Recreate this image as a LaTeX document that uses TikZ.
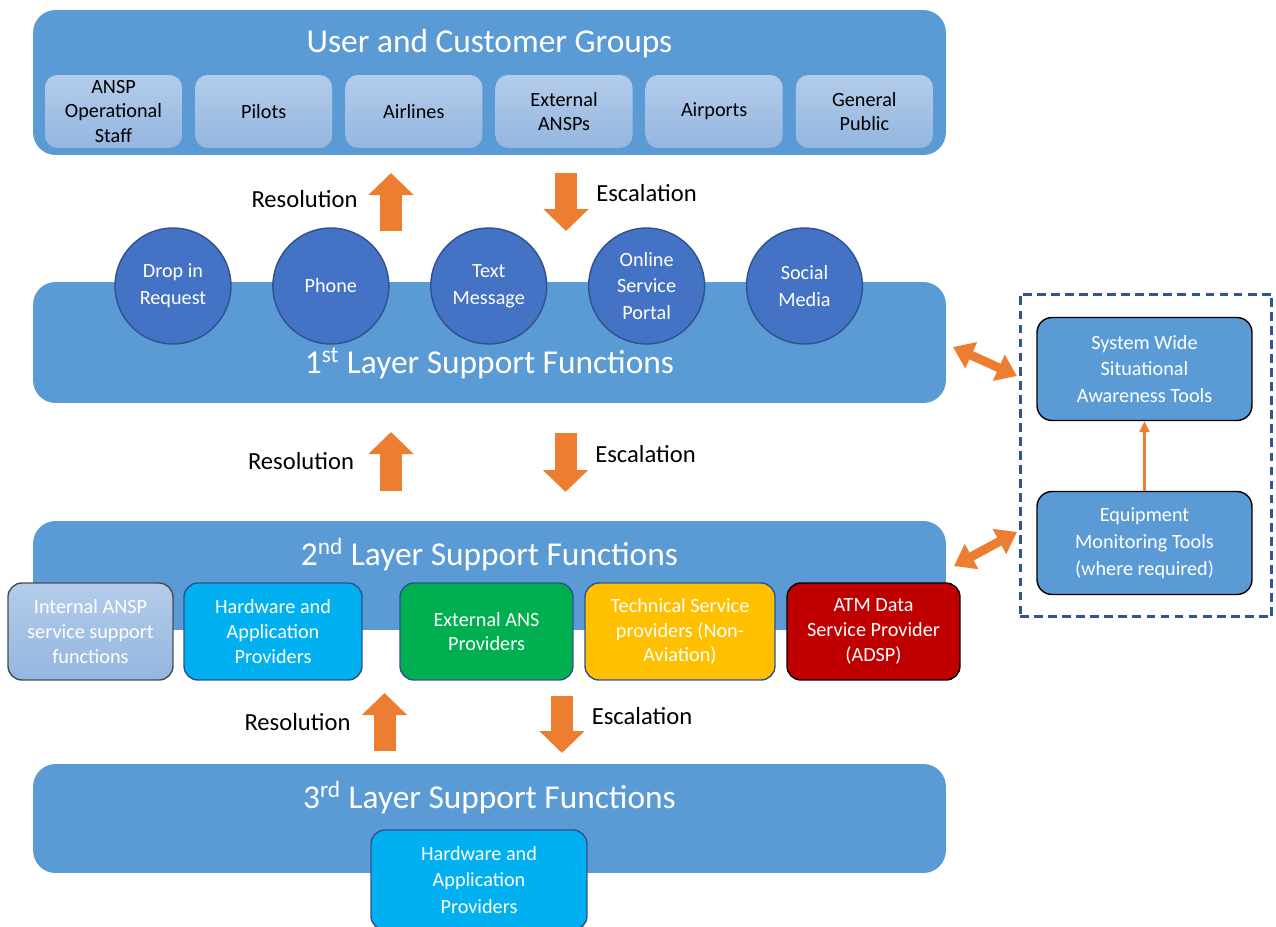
\documentclass[tikz,border=0pt]{standalone}
\usepackage{fontspec}
\setmainfont{Carlito}
\usetikzlibrary{arrows.meta, positioning}
\definecolor{barblue}{HTML}{5B9BD5}
\definecolor{chanblue}{HTML}{4472C4}
\definecolor{navy}{HTML}{2F528F}
\definecolor{framecol}{HTML}{2F5597}
\definecolor{grouptop}{HTML}{B4CCEA}
\definecolor{groupbot}{HTML}{94B6E0}
\definecolor{hwcyan}{HTML}{00B0F0}
\definecolor{ansgreen}{HTML}{00B050}
\definecolor{techgold}{HTML}{FFC000}
\definecolor{adspred}{HTML}{C00000}
\definecolor{flowor}{HTML}{ED7D31}
\tikzstyle{layer} = [rectangle, rounded corners=0.45cm, fill=barblue, minimum width=18.26cm, inner sep=0pt]
\tikzstyle{title} = [text=white, font=\fontsize{19}{23}\selectfont]
\tikzstyle{group} = [rectangle, rounded corners=0.25cm, top color=grouptop, bottom color=groupbot, minimum width=2.74cm, minimum height=1.46cm, inner sep=2pt, align=center, font=\fontsize{11.5}{13.8}\selectfont]
\tikzstyle{channel} = [circle, draw=navy, line width=0.8pt, fill=chanblue, minimum size=2.32cm, inner sep=0pt, align=center, text=white, font=\fontsize{11.5}{15.3}\selectfont]
\tikzstyle{provider} = [rectangle, rounded corners=0.28cm, draw=navy, line width=0.8pt, minimum height=1.94cm, inner sep=2pt, align=center, text=white, font=\fontsize{11.5}{14}\selectfont]
\tikzstyle{tool} = [rectangle, rounded corners=0.3cm, draw=black, line width=0.8pt, fill=barblue, minimum width=4.3cm, minimum height=2.06cm, align=center, text=white, font=\fontsize{11.5}{15.3}\selectfont]
\tikzstyle{frame} = [rectangle, draw=framecol, line width=1.7pt, dash pattern=on 5pt off 3pt, minimum width=5.04cm, minimum height=6.46cm]
\tikzstyle{note} = [font=\fontsize{14}{17}\selectfont]
\tikzstyle{flow} = [flowor, line width=0.44cm, -{Triangle[length=0.44cm, width=0.88cm]}]
\tikzstyle{link} = [flowor, line width=0.18cm, {Triangle[length=0.4cm, width=0.55cm]}-{Triangle[length=0.4cm, width=0.55cm]}]
\tikzstyle{thinflow} = [flowor, line width=1.6pt, -{Triangle[length=0.22cm, width=0.2cm]}]

\begin{document}
\begin{tikzpicture}[x=0.02cm, y=-0.02cm, node distance=0.25cm]
	\clip (0,0) rectangle (1276,927);
	% layers
	\node (users) [layer, minimum height=2.9cm] at (489.5,82.5) {};
	\node (first) [layer, minimum height=2.42cm] at (489.5,342.5) {};
	\node (second) [layer, minimum height=2.18cm] at (489.5,575.5) {};
	\node (third) [layer, minimum height=2.18cm] at (489.5,818.5) {};
	\node (usersT) [title] at (489.5,44) {User and Customer Groups};
	\node (firstT) [title] at (489.5,363) {1\textsuperscript{st} Layer Support Functions};
	\node (secondT) [title] at (489.5,555) {2\textsuperscript{nd} Layer Support Functions};
	\node (thirdT) [title] at (489.5,798) {3\textsuperscript{rd} Layer Support Functions};
	% user and customer groups
	\node (ansp) [group] at (113.5,111.5) {ANSP\\Operational\\Staff};
	\node (pilots) [group, right=of ansp] {Pilots};
	\node (airlines) [group, right=of pilots] {Airlines};
	\node (extansp) [group, right=of airlines] {External\\ANSPs};
	\node (airports) [group, right=of extansp] {Airports};
	\node (public) [group, right=of airports] {General\\Public};
	% contact channels
	\node (drop) [channel] at (173,286) {Drop in\\Request};
	\node (phone) [channel, right=0.81cm of drop] {Phone};
	\node (text) [channel, right=0.81cm of phone] {Text\\Message};
	\node (portal) [channel, right=0.81cm of text] {Online\\Service\\Portal};
	\node (social) [channel, right=0.81cm of portal] {Social\\Media};
	% 2nd layer providers
	\node (internal) [provider, draw=black!70, top color=grouptop, bottom color=groupbot, minimum width=3.3cm] at (90.5,631.5) {Internal ANSP\\service support\\functions};
	\node (hardware) [provider, fill=hwcyan, minimum width=3.56cm] at (273,631.5) {Hardware and\\Application\\Providers};
	\node (extans) [provider, fill=ansgreen, minimum width=3.46cm] at (486.5,631.5) {External ANS\\Providers};
	\node (technical) [provider, fill=techgold, minimum width=3.8cm] at (680,631.5) {Technical Service\\providers (Non-\\Aviation)};
	\node (adsp) [provider, draw=black, fill=adspred, minimum width=3.46cm] at (873.5,631.5) {ATM Data\\Service Provider\\(ADSP)};
	% 3rd layer provider
	\node (hardware3) [provider, fill=hwcyan, minimum width=4.32cm, minimum height=2cm, font=\fontsize{11.5}{15.3}\selectfont] at (479,880) {Hardware and\\Application\\Providers};
	% monitoring tools
	\node (tools) [frame] at (1146,455.5) {};
	\node (swsa) [tool] at (1144.5,369) {System Wide\\Situational\\Awareness Tools};
	\node (emt) [tool] at (1144.5,543) {Equipment\\Monitoring Tools\\(where required)};
	\draw [thinflow] (emt) -- (swsa);
	% resolution / escalation
	\coordinate (res1a) at (391,231); \coordinate (res1b) at (391,173);
	\coordinate (esc1a) at (566,173); \coordinate (esc1b) at (566,231);
	\coordinate (res2a) at (391,491); \coordinate (res2b) at (391,432);
	\coordinate (esc2a) at (565.5,433); \coordinate (esc2b) at (565.5,492);
	\coordinate (res3a) at (384.5,751); \coordinate (res3b) at (384.5,693);
	\coordinate (esc3a) at (562,696); \coordinate (esc3b) at (562,753);
	\draw [flow] (res1a) -- (res1b);
	\draw [flow] (esc1a) -- (esc1b);
	\draw [flow] (res2a) -- (res2b);
	\draw [flow] (esc2a) -- (esc2b);
	\draw [flow] (res3a) -- (res3b);
	\draw [flow] (esc3a) -- (esc3b);
	\node (res1) [note] at (304.5,199) {Resolution};
	\node (esc1) [note] at (646.5,193) {Escalation};
	\node (res2) [note] at (301,461) {Resolution};
	\node (esc2) [note] at (645.5,454) {Escalation};
	\node (res3) [note] at (297.5,722) {Resolution};
	\node (esc3) [note] at (642,716) {Escalation};
	% links to tools
	\coordinate (lnk1a) at (953,347); \coordinate (lnk1b) at (1017,376);
	\coordinate (lnk2a) at (954,566); \coordinate (lnk2b) at (1017,532);
	\draw [link] (lnk1a) -- (lnk1b);
	\draw [link] (lnk2a) -- (lnk2b);
\end{tikzpicture}
\end{document}
